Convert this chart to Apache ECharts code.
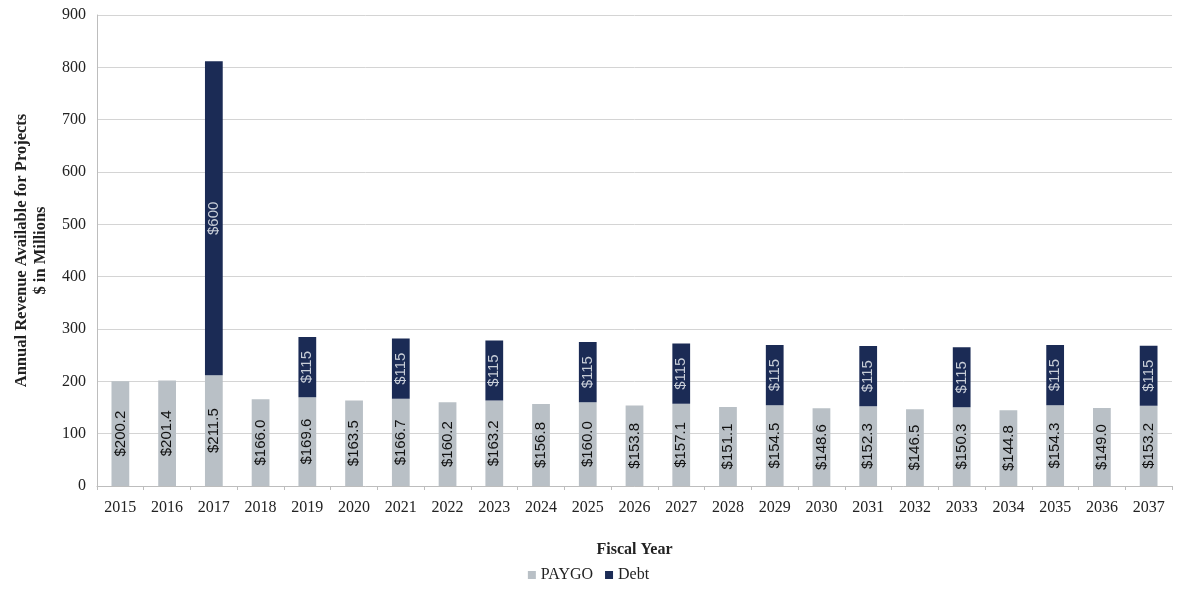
<!DOCTYPE html>
<html>
<head>
<meta charset="utf-8">
<script src="https://cdn.jsdelivr.net/npm/echarts@6/dist/echarts.min.js"></script>
<style>
  html, body { margin: 0; padding: 0; background: #fff; }
  #chart { width: 1177px; height: 593px; }
</style>
</head>
<body>
<div id="chart"></div>
<script>
// Fiscal years on the category axis
const years = ['2015','2016','2017','2018','2019','2020','2021','2022','2023','2024','2025','2026',
               '2027','2028','2029','2030','2031','2032','2033','2034','2035','2036','2037'];

// Pay-as-you-go revenue, $ millions
const paygo = [200.2, 201.4, 211.5, 166.0, 169.6, 163.5, 166.7, 160.2, 163.2, 156.8, 160.0, 153.8,
               157.1, 151.1, 154.5, 148.6, 152.3, 146.5, 150.3, 144.8, 154.3, 149.0, 153.2];

// Debt proceeds, $ millions (no issuance in blank years)
const debt = [null, null, 600, null, 115, null, 115, null, 115, null, 115, null,
              115, null, 115, null, 115, null, 115, null, 115, null, 115];

const serif = 'Liberation Serif';
const narrow = '"Liberation Sans Narrow", "Liberation Sans", Arial';

const chart = echarts.init(document.getElementById('chart'));
chart.setOption({
  animation: false,
  backgroundColor: '#ffffff',
  grid: { left: 97, right: 5, top: 15, bottom: 107 },
  legend: {
    bottom: 5,
    left: 'center',
    itemWidth: 8,
    itemHeight: 8,
    itemGap: 12,
    icon: 'rect',
    textStyle: { fontFamily: serif, fontSize: 16, color: '#222' },
    data: ['PAYGO', 'Debt']
  },
  xAxis: {
    type: 'category',
    data: years,
    name: 'Fiscal Year',
    nameLocation: 'middle',
    nameGap: 56,
    nameTextStyle: { fontFamily: serif, fontSize: 16, fontWeight: 'bold', color: '#222' },
    axisLine: { lineStyle: { color: '#bdbdbd' } },
    axisTick: { show: true, length: 4, lineStyle: { color: '#bdbdbd' } },
    axisLabel: { fontFamily: serif, fontSize: 16, color: '#222', margin: 14 }
  },
  yAxis: {
    type: 'value',
    min: 0,
    max: 900,
    interval: 100,
    name: 'Annual Revenue Available for Projects\n$ in Millions',
    nameLocation: 'middle',
    nameGap: 47,
    nameTextStyle: { fontFamily: serif, fontSize: 16.5, fontWeight: 'bold', color: '#222', lineHeight: 19 },
    axisLine: { show: true, lineStyle: { color: '#bdbdbd' } },
    axisTick: { show: false },
    axisLabel: { fontFamily: serif, fontSize: 16, color: '#222', margin: 11 },
    splitLine: { lineStyle: { color: '#d4d4d4' } }
  },
  series: [
    {
      name: 'PAYGO',
      type: 'bar',
      stack: 'rev',
      data: paygo,
      barWidth: '38%',
      itemStyle: { color: '#b9c0c6' },
      label: {
        show: true,
        position: 'inside',
        rotate: 90,
        fontFamily: narrow,
        fontSize: 15,
        color: '#111',
        formatter: p => '$' + p.value.toFixed(1)
      }
    },
    {
      name: 'Debt',
      type: 'bar',
      stack: 'rev',
      data: debt,
      barWidth: '38%',
      itemStyle: { color: '#1b2b55' },
      label: {
        show: true,
        position: 'inside',
        rotate: 90,
        fontFamily: narrow,
        fontSize: 15,
        color: '#c8ced8',
        formatter: p => '$' + p.value
      }
    }
  ]
});
</script>
</body>
</html>
